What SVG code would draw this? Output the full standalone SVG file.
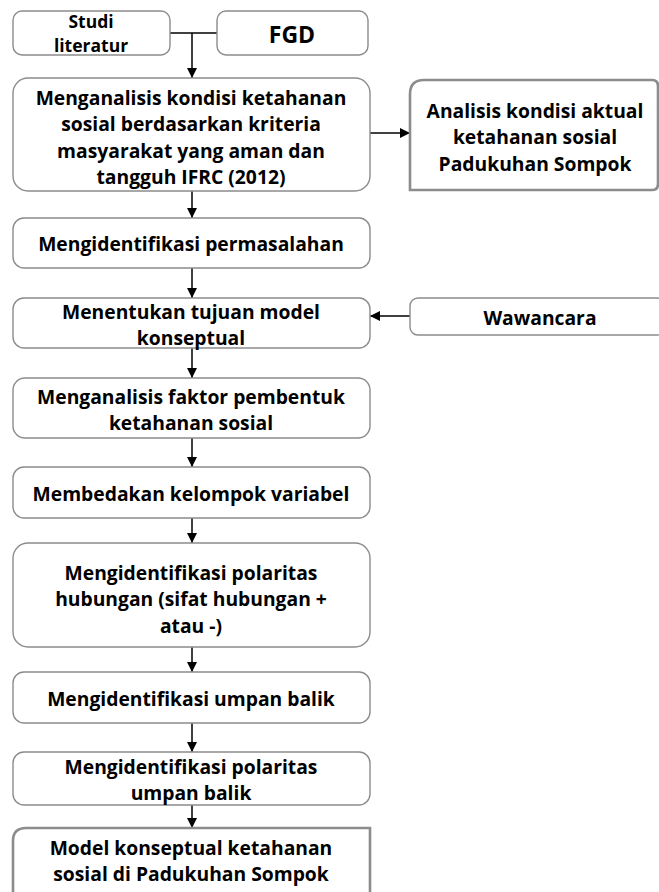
<svg xmlns="http://www.w3.org/2000/svg" width="659" height="892" viewBox="0 0 659 892">
<style>
.box{fill:#fff;stroke:#8c8c8c;stroke-width:1.4}
.emph{fill:#fff;stroke:#8c8c8c;stroke-width:2.6}
text{font-family:"Open Sans","Noto Sans","DejaVu Sans",sans-serif;font-weight:bold;font-size:19.3px;fill:#000;text-anchor:middle;dominant-baseline:central}
.s{font-size:17.5px}
.big{font-size:23px}
.c{fill:none;stroke:#000;stroke-width:1.5}
</style>
<defs>
<marker id="ah" viewBox="0 0 10 10" refX="10" refY="5" markerWidth="10" markerHeight="10" markerUnits="userSpaceOnUse" orient="auto">
<path d="M0,0 L10,5 L0,10 z" fill="#000"/>
</marker>
</defs>
<rect width="659" height="892" fill="#fff"/>
<g id="connectors">
<path class="c" d="M170,33 H217"/>
<path class="c" d="M192,33 V78" marker-end="url(#ah)"/>
<path class="c" d="M370,133 H410" marker-end="url(#ah)"/>
<path class="c" d="M192,191 V218" marker-end="url(#ah)"/>
<path class="c" d="M192,268 V298" marker-end="url(#ah)"/>
<path class="c" d="M410,316 H370" marker-end="url(#ah)"/>
<path class="c" d="M192,348 V378" marker-end="url(#ah)"/>
<path class="c" d="M192,438 V467" marker-end="url(#ah)"/>
<path class="c" d="M192,518 V543" marker-end="url(#ah)"/>
<path class="c" d="M192,647 V672" marker-end="url(#ah)"/>
<path class="c" d="M192,723 V752" marker-end="url(#ah)"/>
<path class="c" d="M192,805 V828" marker-end="url(#ah)"/>
</g>
<g id="studi">
<rect class="box" x="13" y="11" width="157" height="44" rx="9"/>
<text class="s" x="91" y="21">Studi</text>
<text class="s" x="91" y="45">literatur</text>
</g>
<g id="fgd">
<rect class="box" x="217" y="11" width="151" height="44" rx="9"/>
<text class="big" x="292" y="34">FGD</text>
</g>
<g id="menganalisis-kondisi">
<rect class="box" x="13" y="78" width="357" height="113" rx="15"/>
<text x="191" y="97">Menganalisis kondisi ketahanan</text>
<text x="191" y="123.5">sosial berdasarkan kriteria</text>
<text x="191" y="150">masyarakat yang aman dan</text>
<text x="191" y="176.5">tangguh IFRC (2012)</text>
</g>
<g id="analisis-aktual">
<path class="emph" d="M424,80 H652 Q658,80 658,86 V184 Q658,190 652,190 H410 V94 Q410,80 424,80 Z"/>
<text x="535" y="110">Analisis kondisi aktual</text>
<text x="535" y="136.5">ketahanan sosial</text>
<text x="535" y="163">Padukuhan Sompok</text>
</g>
<g id="permasalahan">
<rect class="box" x="13" y="218" width="357" height="50" rx="11"/>
<text x="191" y="243">Mengidentifikasi permasalahan</text>
</g>
<g id="tujuan">
<rect class="box" x="13" y="298" width="357" height="50" rx="11"/>
<text x="191" y="311">Menentukan tujuan model</text>
<text x="191" y="337.5">konseptual</text>
</g>
<g id="wawancara">
<rect class="box" x="410" y="298" width="255" height="37" rx="8"/>
<text x="540" y="317">Wawancara</text>
</g>
<g id="faktor">
<rect class="box" x="13" y="378" width="357" height="60" rx="12"/>
<text x="191" y="396">Menganalisis faktor pembentuk</text>
<text x="191" y="422.5">ketahanan sosial</text>
</g>
<g id="kelompok">
<rect class="box" x="13" y="467" width="357" height="51" rx="11"/>
<text x="191" y="493">Membedakan kelompok variabel</text>
</g>
<g id="polaritas-hubungan">
<rect class="box" x="13" y="543" width="357" height="104" rx="15"/>
<text x="191" y="572">Mengidentifikasi polaritas</text>
<text x="191" y="598.5">hubungan (sifat hubungan +</text>
<text x="191" y="625">atau -)</text>
</g>
<g id="umpan-balik">
<rect class="box" x="13" y="672" width="357" height="51" rx="11"/>
<text x="191" y="698">Mengidentifikasi umpan balik</text>
</g>
<g id="polaritas-umpan">
<rect class="box" x="13" y="752" width="357" height="53" rx="11"/>
<text x="191" y="766">Mengidentifikasi polaritas</text>
<text x="191" y="792.5">umpan balik</text>
</g>
<g id="model">
<path class="emph" d="M13,900 V841 Q13,828 26,828 H370 V900"/>
<text x="191" y="847">Model konseptual ketahanan</text>
<text x="191" y="873.5">sosial di Padukuhan Sompok</text>
</g>
</svg>
